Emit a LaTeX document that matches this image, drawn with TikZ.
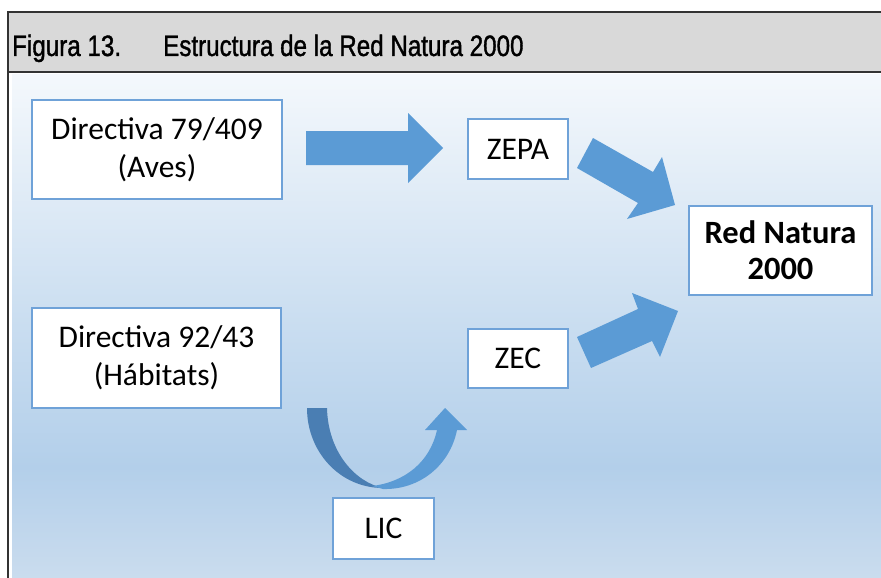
\documentclass[tikz,border=0pt]{standalone}
\usepackage{fontspec}
\setmainfont{Carlito}
\newfontfamily\headfont[FakeStretch=0.82,FakeBold=1.2]{Liberation Sans}
\definecolor{boxline}{HTML}{6FA2D8}
\definecolor{arrowblue}{HTML}{5B9BD5}
\definecolor{arrowdark}{HTML}{4A7EB3}
\definecolor{headgray}{HTML}{D9D9D9}
\definecolor{frameline}{HTML}{333333}
\definecolor{bgtop}{HTML}{F4F8FC}
\definecolor{bgmid}{HTML}{C9DDF0}
\definecolor{bgdark}{HTML}{B3CFEA}
\definecolor{bgbot}{HTML}{CADCEE}
\pgfdeclareverticalshading{bgshade}{100bp}{color(0bp)=(bgbot); color(25bp)=(bgbot); color(36bp)=(bgdark); color(50bp)=(bgmid); color(75bp)=(bgtop); color(100bp)=(bgtop)}
\tikzset{
  wbox/.style={draw=boxline, line width=1.3pt, fill=white, align=center, inner sep=0pt,
    font=\fontsize{31.5}{38}\selectfont},
  blockarrow/.style={fill=arrowblue, draw=none},
  headtext/.style={anchor=base west, inner sep=0pt, font=\headfont\fontsize{29.5}{32}\selectfont}
}
\begin{document}
\begin{tikzpicture}[x=1pt,y=-1pt]
\useasboundingbox (0,0) rectangle (881,578);
\fill[white] (0,0) rectangle (881,578);
% background gradient
\shade[shading=bgshade] (12,75) rectangle (881,578);
% header
\fill[headgray] (8,12) rectangle (881,72);
\draw[frameline, line width=2pt] (881,12) -- (8,12) -- (8,578);
\draw[frameline, line width=2pt] (8,72) -- (881,72);
\node[headtext] (fig) at (12,56) {Figura 13.};
\node[headtext] (title) at (163,56) {Estructura de la Red Natura 2000};
% boxes
\node[wbox, minimum width=250pt, minimum height=99pt] (d1) at (157,149.5) {Directiva 79/409\\(Aves)};
\node[wbox, minimum width=249pt, minimum height=100pt] (d2) at (156.5,358) {Directiva 92/43\\(Hábitats)};
\node[wbox, minimum width=100pt, minimum height=60pt] (zepa) at (518,149) {ZEPA};
\node[wbox, minimum width=100pt, minimum height=59pt] (zec) at (518,358.5) {ZEC};
\node[wbox, minimum width=183pt, minimum height=89pt, font=\bfseries\fontsize{32.5}{36}\selectfont] (red) at (780.5,250.5) {Red Natura\\2000};
\node[wbox, minimum width=101pt, minimum height=61pt] (lic) at (383.5,528.5) {LIC};
% block arrows
\fill[blockarrow] (306,131) -- (408,131) -- (408,113) -- (443,148) -- (408,183) -- (408,165) -- (306,165) -- cycle;
\fill[blockarrow] (593,138) -- (653,172) -- (662,157) -- (675,205) -- (627,219) -- (638,203) -- (577,168) -- cycle;
\fill[blockarrow] (577,337) -- (638,309) -- (632,293) -- (678,311) -- (660,357) -- (652,341) -- (591,368) -- cycle;
% curved arrow (LIC)
\fill[arrowdark] (307,408) .. controls (307,452) and (340,488) .. (383,488)
  .. controls (355,482) and (328,452) .. (327,408) -- cycle;
\fill[blockarrow] (372,486) .. controls (405,482) and (430,462) .. (437,430)
  -- (425,430) -- (445,408) -- (467,430) -- (457,430)
  .. controls (450,465) and (420,490) .. (383,489) -- cycle;
\end{tikzpicture}
\end{document}
